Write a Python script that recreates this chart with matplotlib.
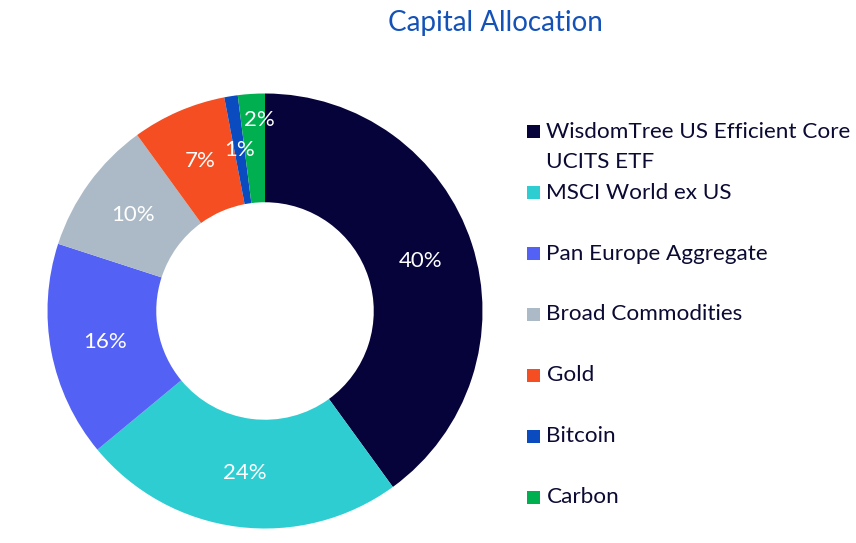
import matplotlib
matplotlib.use("Agg")
import matplotlib.pyplot as plt
from matplotlib.patches import Rectangle
import numpy as np

plt.rcParams['font.family'] = ['Lato', 'DejaVu Sans']

categories = ["WisdomTree US Efficient Core\nUCITS ETF", "MSCI World ex US",
              "Pan Europe Aggregate", "Broad Commodities", "Gold", "Bitcoin", "Carbon"]
values = [40, 24, 16, 10, 7, 1, 2]
colors = ["#06033a", "#2ecdd2", "#5361f5", "#abbac6", "#f44e22", "#0a4bbf", "#00b050"]
title = "Capital Allocation"

W, H = 856, 543
fig = plt.figure(figsize=(W / 100, H / 100), dpi=100)

cx, cy, R = 265.0, 311.0, 217.5
ax = fig.add_axes([(cx - R) / W, (H - cy - R) / H, 2 * R / W, 2 * R / H])
wedges, texts, autotexts = ax.pie(
    values, colors=colors, startangle=90, counterclock=False,
    wedgeprops=dict(width=0.5, linewidth=0),
    autopct=lambda p: f"{p:.0f}%", pctdistance=0.75,
    textprops=dict(color="white", fontsize=16))
ax.set_xlim(-1, 1)
ax.set_ylim(-1, 1)
ax.set_aspect('equal')

# nudge the small "2%" label outward, as in the reference
x, y = autotexts[-1].get_position()
autotexts[-1].set_position((x * 0.88 / 0.75 + 0.03, y * 0.88 / 0.75))

fig.text(495 / W, 1 - 23 / H, title, ha='center', va='center',
         fontsize=20, color="#1452b8")

text_color = "#0b0a33"
y0, dy = 131.7, 60.9
for i, (name, col) in enumerate(zip(categories, colors)):
    yc = y0 + dy * i
    fig.patches.append(Rectangle((527 / W, 1 - (yc + 6.5) / H), 13 / W, 13 / H,
                                 transform=fig.transFigure, facecolor=col,
                                 edgecolor='none'))
    for k, line in enumerate(name.split("\n")):
        fig.text(546.5 / W, 1 - (yc + 30 * k) / H, line, ha='left', va='center',
                 fontsize=16.2, color=text_color)

fig.savefig("out.png", dpi=100)
